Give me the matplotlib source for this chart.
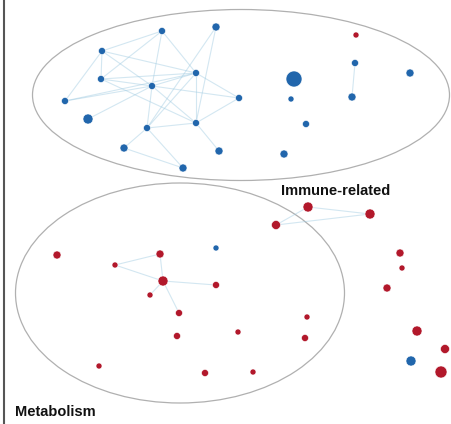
import matplotlib.pyplot as plt
from matplotlib.patches import Ellipse

# node positions (pixel space), radius and group
node_names = ["A", "B", "C", "D", "E", "F", "G", "H", "I", "J", "K", "L", "M",
              "N", "O", "P", "Q", "R", "S", "T", "U", "V",
              "a", "b", "c", "d", "e", "f", "g", "h", "i", "j", "k",
              "l", "m", "n", "o", "p", "q", "r", "s", "t", "u", "v", "w", "x", "y"]
node_x = [162, 216, 102, 196, 101, 152, 65, 88, 147, 196, 124, 183, 219,
          239, 294, 291, 306, 284, 355, 352, 410, 356,
          57, 160, 115, 163, 216, 150, 179, 177, 99, 205, 216,
          308, 370, 276, 400, 402, 387, 307, 238, 305, 253, 417, 445, 411, 441]
node_y = [31, 27, 51, 73, 79, 86, 101, 119, 128, 123, 148, 168, 151,
          98, 79, 99, 124, 154, 63, 97, 73, 35,
          255, 254, 265, 281, 285, 295, 313, 336, 366, 373, 248,
          207, 214, 225, 253, 268, 288, 317, 332, 338, 372, 331, 349, 361, 372]
node_r = [3.5, 4, 3.5, 3.5, 3.5, 3.5, 3.5, 5, 3.5, 3.5, 4, 4, 4,
          3.5, 8, 3, 3.5, 4, 3.5, 4, 4, 3,
          4, 4, 3, 5, 3.5, 3, 3.5, 3.5, 3, 3.5, 3,
          5, 5, 4.5, 4, 3, 4, 3, 3, 3.5, 3, 5, 4.5, 5, 6]
node_group = ["immune"] * 21 + ["metab"] + \
             ["metab"] * 10 + ["immune"] + \
             ["metab"] * 12 + ["immune", "metab"]

edges = [("C", "A"), ("C", "E"), ("C", "G"), ("C", "D"), ("C", "F"),
         ("A", "F"), ("A", "D"), ("A", "E"), ("B", "I"), ("B", "J"),
         ("E", "D"), ("E", "F"), ("E", "J"), ("G", "F"), ("H", "F"),
         ("F", "D"), ("F", "J"), ("F", "N"), ("F", "I"), ("D", "J"),
         ("D", "N"), ("D", "I"), ("I", "J"), ("I", "K"), ("I", "L"),
         ("K", "L"), ("J", "M"), ("J", "N"), ("G", "D"), ("S", "T"),
         ("c", "b"), ("c", "d"), ("b", "d"), ("d", "e"), ("d", "f"),
         ("d", "g"), ("l", "n"), ("l", "m"), ("n", "m")]

colors = {"immune": "#2166ac", "metab": "#b2182b"}

fig = plt.figure(figsize=(4.52, 4.24), dpi=100)
ax = fig.add_axes([0, 0, 1, 1])
ax.set_xlim(0, 452)
ax.set_ylim(424, 0)
ax.axis("off")

ax.axvline(4, color="#555555", lw=1.5)

ax.add_patch(Ellipse((241, 95), 417, 171, fill=False, ec="#b0b0b0", lw=0.9))
ax.add_patch(Ellipse((180, 293), 329, 220, fill=False, ec="#b0b0b0", lw=0.9))

idx = {n: i for i, n in enumerate(node_names)}
for s, t in edges:
    i, j = idx[s], idx[t]
    ax.plot([node_x[i], node_x[j]], [node_y[i], node_y[j]],
            color="#9ecae1", lw=0.8, alpha=0.45, zorder=2)

sizes = [(2 * r * 0.72) ** 2 for r in node_r]
ax.scatter(node_x, node_y, s=sizes, c=[colors[g] for g in node_group],
           edgecolors="white", linewidths=0.4, zorder=3)

ax.text(336, 191, "Immune-related", ha="center", va="center",
        fontsize=10.5, fontweight="bold", color="#111111",
        family="Liberation Sans")
ax.text(15, 412, "Metabolism", ha="left", va="center",
        fontsize=10.5, fontweight="bold", color="#111111",
        family="Liberation Sans")

fig.savefig("out.png", dpi=100)
